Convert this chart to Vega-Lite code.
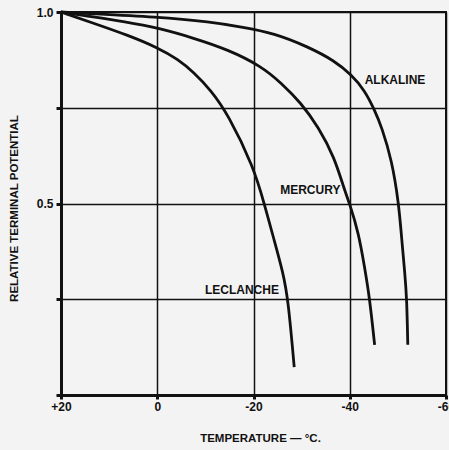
{
  "$schema": "https://vega.github.io/schema/vega-lite/v6.json",
  "width": 385,
  "height": 383,
  "autosize": "none",
  "padding": {"left": 61, "top": 12, "right": 3, "bottom": 55},
  "background": "#f3f3f3",
  "config": {
    "view": {"stroke": "#111", "strokeWidth": 2},
    "font": "Liberation Sans"
  },
  "datasets": {
    "curves": [
      {"battery": "ALKALINE", "t": 20, "v": 1.0},
      {"battery": "ALKALINE", "t": 16.03, "v": 0.997},
      {"battery": "ALKALINE", "t": -0.26, "v": 0.987},
      {"battery": "ALKALINE", "t": -11.12, "v": 0.974},
      {"battery": "ALKALINE", "t": -17.39, "v": 0.961},
      {"battery": "ALKALINE", "t": -24.28, "v": 0.945},
      {"battery": "ALKALINE", "t": -31.38, "v": 0.909},
      {"battery": "ALKALINE", "t": -36.81, "v": 0.873},
      {"battery": "ALKALINE", "t": -40.37, "v": 0.836},
      {"battery": "ALKALINE", "t": -43.08, "v": 0.796},
      {"battery": "ALKALINE", "t": -45.17, "v": 0.744},
      {"battery": "ALKALINE", "t": -46.63, "v": 0.7},
      {"battery": "ALKALINE", "t": -48.72, "v": 0.614},
      {"battery": "ALKALINE", "t": -50.18, "v": 0.501},
      {"battery": "ALKALINE", "t": -50.81, "v": 0.405},
      {"battery": "ALKALINE", "t": -51.44, "v": 0.319},
      {"battery": "ALKALINE", "t": -51.85, "v": 0.253},
      {"battery": "ALKALINE", "t": -52.06, "v": 0.131},
      {"battery": "MERCURY", "t": 20, "v": 1.0},
      {"battery": "MERCURY", "t": 16.03, "v": 0.992},
      {"battery": "MERCURY", "t": 6.21, "v": 0.974},
      {"battery": "MERCURY", "t": -0.26, "v": 0.958},
      {"battery": "MERCURY", "t": -7.57, "v": 0.932},
      {"battery": "MERCURY", "t": -14.67, "v": 0.902},
      {"battery": "MERCURY", "t": -21.57, "v": 0.859},
      {"battery": "MERCURY", "t": -25.75, "v": 0.815},
      {"battery": "MERCURY", "t": -29.92, "v": 0.762},
      {"battery": "MERCURY", "t": -33.47, "v": 0.7},
      {"battery": "MERCURY", "t": -36.81, "v": 0.621},
      {"battery": "MERCURY", "t": -38.9, "v": 0.535},
      {"battery": "MERCURY", "t": -39.95, "v": 0.501},
      {"battery": "MERCURY", "t": -41.83, "v": 0.423},
      {"battery": "MERCURY", "t": -43.08, "v": 0.334},
      {"battery": "MERCURY", "t": -44.13, "v": 0.253},
      {"battery": "MERCURY", "t": -45.17, "v": 0.131},
      {"battery": "LECLANCHE", "t": 20, "v": 1.0},
      {"battery": "LECLANCHE", "t": 13.32, "v": 0.971},
      {"battery": "LECLANCHE", "t": 6.21, "v": 0.94},
      {"battery": "LECLANCHE", "t": -0.26, "v": 0.906},
      {"battery": "LECLANCHE", "t": -4.23, "v": 0.877},
      {"battery": "LECLANCHE", "t": -7.57, "v": 0.843},
      {"battery": "LECLANCHE", "t": -11.12, "v": 0.796},
      {"battery": "LECLANCHE", "t": -14.67, "v": 0.734},
      {"battery": "LECLANCHE", "t": -20.1, "v": 0.593},
      {"battery": "LECLANCHE", "t": -22.19, "v": 0.501},
      {"battery": "LECLANCHE", "t": -24.28, "v": 0.405},
      {"battery": "LECLANCHE", "t": -26.16, "v": 0.319},
      {"battery": "LECLANCHE", "t": -27.21, "v": 0.248},
      {"battery": "LECLANCHE", "t": -28.46, "v": 0.073}
    ],
    "labels": [
      {"label": "ALKALINE", "t": -49.4, "v": 0.822},
      {"label": "MERCURY", "t": -31.8, "v": 0.536},
      {"label": "LECLANCHE", "t": -17.6, "v": 0.274}
    ]
  },
  "encoding": {
    "x": {
      "field": "t",
      "type": "quantitative",
      "scale": {"domain": [20, -60], "nice": false, "zero": false},
      "axis": {
        "values": [20, 0, -20, -40, -60],
        "labelExpr": "datum.value > 0 ? '+' + datum.value : '' + datum.value",
        "title": "TEMPERATURE —   °C.",
        "titleFont": "Liberation Sans",
        "titleFontWeight": "bold",
        "titleFontSize": 11.5,
        "titleColor": "#111",
        "titlePadding": 20,
        "titleX": 199,
        "labelFont": "Liberation Sans",
        "labelFontWeight": "bold",
        "labelFontSize": 12,
        "labelColor": "#111",
        "labelPadding": 2,
        "labelFlush": false,
        "labelOverlap": false,
        "domainColor": "#111",
        "domainWidth": 3,
        "tickColor": "#111",
        "tickSize": 4,
        "tickWidth": 3,
        "grid": true,
        "gridColor": "#111",
        "gridWidth": 1.5,
        "gridOpacity": 1
      }
    },
    "y": {
      "field": "v",
      "type": "quantitative",
      "scale": {"domain": [0, 1], "nice": false},
      "axis": {
        "values": [0, 0.25, 0.5, 0.75, 1],
        "labelExpr": "datum.value == 1 ? '1.0' : datum.value == 0.5 ? '0.5' : ''",
        "title": "RELATIVE TERMINAL POTENTIAL",
        "titleFont": "Liberation Sans",
        "titleFontWeight": "bold",
        "titleFontSize": 11.5,
        "titleColor": "#111",
        "titlePadding": 17,
        "titleY": 196,
        "labelFont": "Liberation Sans",
        "labelFontWeight": "bold",
        "labelFontSize": 12,
        "labelColor": "#111",
        "labelPadding": 3,
        "labelFlush": false,
        "domainColor": "#111",
        "domainWidth": 3,
        "tickColor": "#111",
        "tickSize": 5,
        "tickWidth": 3,
        "grid": true,
        "gridColor": "#111",
        "gridWidth": 1.5,
        "gridOpacity": 1
      }
    }
  },
  "layer": [
    {
      "data": {"name": "curves"},
      "mark": {"type": "line", "color": "#111", "strokeWidth": 2.8, "interpolate": "basis"},
      "encoding": {
        "detail": {"field": "battery", "type": "nominal"},
        "order": {"field": "t", "sort": "descending"}
      }
    },
    {
      "data": {"name": "labels"},
      "mark": {"type": "text", "font": "Liberation Sans", "fontWeight": "bold", "fontSize": 12, "color": "#111"},
      "encoding": {
        "text": {"field": "label", "type": "nominal"}
      }
    }
  ]
}
